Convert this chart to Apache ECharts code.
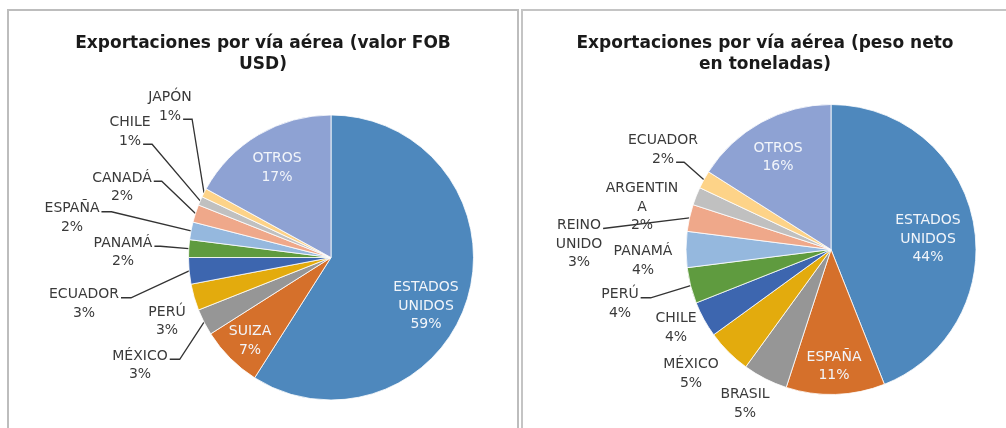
<!DOCTYPE html>
<html><head><meta charset="utf-8">
<script src="https://cdn.jsdelivr.net/npm/echarts@6/dist/echarts.min.js"></script>
<style>html,body{margin:0;padding:0;background:#fff}#c{width:1006px;height:428px}</style>
</head><body><div id="c"></div>
<script>
// ---- data ----
const valorTitle = 'Exportaciones por vía aérea (valor FOB\nUSD)';
const valorCategories = ['ESTADOS UNIDOS','SUIZA','MÉXICO','PERÚ','ECUADOR','PANAMÁ','ESPAÑA','CANADÁ','CHILE','JAPÓN','OTROS'];
const valorShares = [59,7,3,3,3,2,2,2,1,1,17];
const valorLabelText = ['ESTADOS\nUNIDOS','SUIZA','MÉXICO','PERÚ','ECUADOR','PANAMÁ','ESPAÑA','CANADÁ','CHILE','JAPÓN','OTROS'];

const pesoTitle = 'Exportaciones por vía aérea (peso neto\nen toneladas)';
const pesoCategories = ['ESTADOS UNIDOS','ESPAÑA','BRASIL','MÉXICO','CHILE','PERÚ','PANAMÁ','REINO UNIDO','ARGENTINA','ECUADOR','OTROS'];
const pesoShares = [44,11,5,5,4,4,4,3,2,2,16];
const pesoLabelText = ['ESTADOS\nUNIDOS','ESPAÑA','BRASIL','MÉXICO','CHILE','PERÚ','PANAMÁ','REINO\nUNIDO','ARGENTIN\nA','ECUADOR','OTROS'];

// ---- styles / layout ----
const sliceColors = ['#4E88BD','#D5702B','#969696','#E3AB0D','#3D66AF','#5F9B3F','#95B8DE','#EFA88A','#C0C0C0','#FDD388','#8EA2D3'];
const LABEL_FONT = 'DejaVu Sans';
const LABEL_SIZE = 14;
const LINE_H = 18.5;

const valorLabelLayout = {
  'ESTADOS UNIDOS': {x:426, y:306, inside:true},
  'SUIZA': {x:250, y:341, inside:true},
  'OTROS': {x:277, y:168, inside:true},
  'JAPÓN': {x:170, y:107, attach:1, knee:9},
  'CHILE': {x:130, y:132, attach:1, knee:9},
  'CANADÁ': {x:122, y:187.5, attach:0, knee:8},
  'ESPAÑA': {x:72, y:218, attach:0, knee:10},
  'PANAMÁ': {x:123, y:252.5, attach:0, knee:6},
  'ECUADOR': {x:84, y:304, attach:0, knee:10},
  'PERÚ': {x:167, y:321.5},
  'MÉXICO': {x:140, y:365.5, attach:0, knee:10}
};
const pesoLabelLayout = {
  'ESTADOS UNIDOS': {x:928, y:239, inside:true},
  'ESPAÑA': {x:834, y:366.5, inside:true},
  'OTROS': {x:778, y:157.5, inside:true},
  'ECUADOR': {x:663, y:150, attach:1, knee:8},
  'ARGENTINA': {x:642, y:207},
  'REINO UNIDO': {x:579, y:244, attach:0, knee:0},
  'PANAMÁ': {x:643, y:261},
  'PERÚ': {x:620, y:304, attach:0, knee:10},
  'CHILE': {x:676, y:328},
  'MÉXICO': {x:691, y:374},
  'BRASIL': {x:745, y:404}
};

const measureCtx = document.createElement('canvas').getContext('2d');
measureCtx.font = LABEL_SIZE + 'px "' + LABEL_FONT + '"';

function buildData(names, values, layoutMap) {
  return names.map((n, i) => {
    const cfg = layoutMap[n];
    return {
      name: n, value: values[i],
      itemStyle: {color: sliceColors[i]},
      label: {color: cfg.inside ? '#F2F5FA' : '#3A3A3A'},
      labelLine: {show: cfg.attach != null}
    };
  });
}

function makeLayout(names, layoutMap) {
  return function (params) {
    const cfg = layoutMap[names[params.dataIndex]];
    const res = {x: cfg.x, y: cfg.y, align: 'center', verticalAlign: 'middle'};
    if (cfg.attach != null && params.labelLinePoints) {
      const lines = params.text.split('\n');
      const n = lines.length;
      const lineY = cfg.y - (n - 1) * LINE_H / 2 + cfg.attach * LINE_H + 3;
      const w = measureCtx.measureText(lines[cfg.attach]).width;
      const ex = cfg.x + w / 2 + 2;
      const start = params.labelLinePoints[0];
      res.labelLinePoints = [[start[0], start[1]], [ex + cfg.knee, lineY], [ex, lineY]];
    }
    return res;
  };
}

function pieSeries(names, values, labelText, layoutMap, center, radius) {
  return {
    type: 'pie',
    center: center,
    radius: radius,
    startAngle: 90,
    clockwise: true,
    avoidLabelOverlap: false,
    animation: false,
    itemStyle: {borderColor: '#FFFFFF', borderWidth: 0.8},
    label: {
      show: true, position: 'outside',
      fontFamily: LABEL_FONT, fontSize: LABEL_SIZE, lineHeight: LINE_H,
      align: 'center',
      formatter: p => labelText[p.dataIndex] + '\n' + p.value + '%'
    },
    labelLine: {show: true, smooth: false, lineStyle: {color: '#333333', width: 1.3}},
    emphasis: {disabled: true},
    labelLayout: makeLayout(names, layoutMap),
    data: buildData(names, values, layoutMap)
  };
}

const chart = echarts.init(document.getElementById('c'), null, {renderer: 'canvas'});
const titleStyle = {fontFamily: 'DejaVu Sans', fontWeight: 'bold', fontSize: 17, color: '#1A1A1A', lineHeight: 21};
chart.setOption({
  backgroundColor: '#FFFFFF',
  title: [
    {text: valorTitle, left: 263, top: 33, padding: 0, textAlign: 'center', textStyle: titleStyle},
    {text: pesoTitle, left: 765, top: 33, padding: 0, textAlign: 'center', textStyle: titleStyle}
  ],
  graphic: [
    {type: 'polyline', silent: true, shape: {points: [[8, 440], [8, 10], [518, 10], [518, 440]]}, style: {stroke: '#BDBDBD', lineWidth: 2, fill: null}},
    {type: 'polyline', silent: true, shape: {points: [[522, 440], [522, 10], [1010, 10]]}, style: {stroke: '#C4C4C4', lineWidth: 2, fill: null}}
  ],
  series: [
    pieSeries(valorCategories, valorShares, valorLabelText, valorLabelLayout, [331, 257.5], 142.5),
    pieSeries(pesoCategories, pesoShares, pesoLabelText, pesoLabelLayout, [831, 249.5], 145)
  ]
});
</script></body></html>
